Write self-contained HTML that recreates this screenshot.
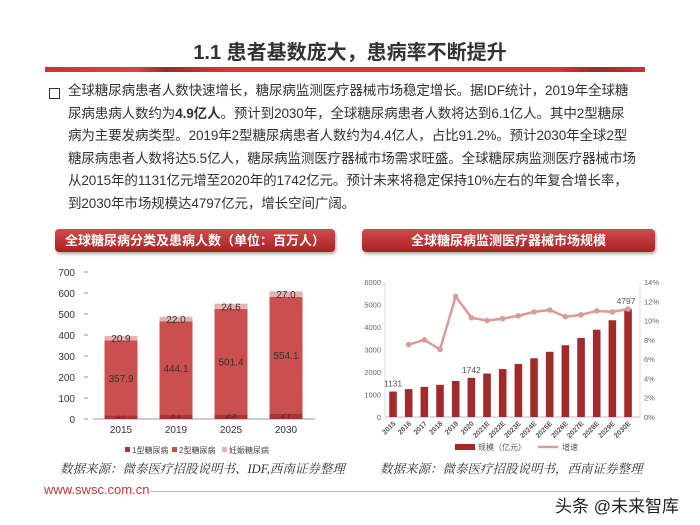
<!DOCTYPE html>
<html><head><meta charset="utf-8">
<style>
body{margin:0;width:700px;height:525px;background:#fff;position:relative;overflow:hidden;font-family:"Liberation Sans","Noto Sans CJK SC",sans-serif;}
.abs{position:absolute;}
.hdr{position:absolute;height:23px;border-radius:4px;background:linear-gradient(#d24b4b,#a82222);color:#fff;font-size:13px;font-weight:bold;text-align:center;line-height:23px;box-shadow:1px 2px 3px #aaa;}
.src{position:absolute;font-style:italic;font-size:12.5px;color:#333;font-family:"Liberation Serif","Noto Serif CJK SC",serif;}
.ln{white-space:nowrap;height:22.6px;}
</style></head><body>
<div class="abs" style="left:0;width:700px;top:36px;text-align:center;font-size:20px;font-weight:bold;color:#333;">1.1 患者基数庞大，患病率不断提升</div>
<div class="abs" style="left:45px;top:67px;width:600px;height:5px;background:linear-gradient(90deg,#c33 0%,#d44 15%,#9c2a2a 20%,#d33 30%,#d33 85%,#9c2a2a 92%,#c33 100%);"></div>
<div class="abs" style="left:49px;top:88px;width:9px;height:9px;border:1.5px solid #333;"></div>
<div class="abs" style="left:68px;top:80px;font-size:13.5px;line-height:22.6px;color:#333;letter-spacing:-0.1px;">
<div class="ln">全球糖尿病患者人数快速增长，糖尿病监测医疗器械市场稳定增长。据IDF统计，2019年全球糖</div>
<div class="ln">尿病患病人数约为<b>4.9亿人</b>。预计到2030年，全球糖尿病患者人数将达到6.1亿人。其中2型糖尿</div>
<div class="ln">病为主要发病类型。2019年2型糖尿病患者人数约为4.4亿人，占比91.2%。预计2030年全球2型</div>
<div class="ln">糖尿病患者人数将达5.5亿人，糖尿病监测医疗器械市场需求旺盛。全球糖尿病监测医疗器械市场</div>
<div class="ln">从2015年的1131亿元增至2020年的1742亿元。预计未来将稳定保持10%左右的年复合增长率，</div>
<div class="ln">到2030年市场规模达4797亿元，增长空间广阔。</div>
</div>

<div class="hdr" style="left:55px;top:229px;width:280px;">全球糖尿病分类及患病人数（单位：百万人）</div>
<div class="hdr" style="left:362px;top:229px;width:293px;">全球糖尿病监测医疗器械市场规模</div>

<svg class="abs" style="left:0;top:0" width="700" height="525">
<g id="left"></g><g id="right"></g>
</svg>

<div class="src" style="left:60px;top:459px;">数据来源：微泰医疗招股说明书、IDF,西南证券整理</div>
<div class="src" style="left:380px;top:459px;">数据来源：微泰医疗招股说明书，西南证券整理</div>
<div class="abs" style="left:44px;top:482px;font-size:13px;color:#c33;">www.swsc.com.cn</div>
<div class="abs" style="left:150px;top:491px;width:490px;height:1px;background:#bbb;"></div>
<div class="abs" style="left:555px;top:492px;font-size:17px;color:#222;">头条 @未来智库</div>

<script>
const NS="http://www.w3.org/2000/svg";
function mk(p,t,a,txt){const e=document.createElementNS(NS,t);for(const k in a)e.setAttribute(k,a[k]);if(txt!==undefined)e.textContent=txt;p.appendChild(e);return e;}
// Left chart data
const leftYears=["2015","2019","2025","2030"];
const type1=[17,21,23,27];
const type2=[357.9,444.1,501.4,554.1];
const gest=[20.9,22.0,24.6,27.0];
const leftTicks=[0,100,200,300,400,500,600,700];
// Right chart data
const rightYears=["2015","2016","2017","2018","2019","2020","2021E","2022E","2023E","2024E","2025E","2026E","2027E","2028E","2029E","2030E"];
const marketSize=[1131,1240,1340,1430,1600,1742,1930,2130,2360,2610,2900,3190,3510,3880,4300,4797];
const growth=[null,7.5,8.0,7.0,12.5,10.3,10.0,10.2,10.5,10.9,11.1,10.4,10.6,11.0,10.9,11.2];
const rightTicksL=[0,1000,2000,3000,4000,5000,6000];
const rightTicksR=[0,2,4,6,8,10,12,14];
const sizeLabels={0:"1131",5:"1742",15:"4797"};

// left
const L=document.getElementById('left');
const ly=v=>419-v*(147/700);
const lx=i=>121+i*55;
mk(L,'line',{x1:93,x2:315,y1:419,y2:419,stroke:'#999'});
leftTicks.forEach(t=>{const e=mk(L,'text',{x:75,y:ly(t)+4,'text-anchor':'end','font-size':10,fill:'#333'},t);mk(L,'line',{x1:84,x2:88,y1:ly(t),y2:ly(t),stroke:'#999'});});
leftYears.forEach((y,i)=>{
 const x=lx(i),w=33;let base=0;
 [[type1,'#a83535'],[type2,'#c9504e'],[gest,'#e6b3b3']].forEach(([arr,c],k)=>{
  const v=arr[i];const r=mk(L,'rect',{x:x-w/2,y:ly(base+v),width:w,height:ly(base)-ly(base+v),fill:c});
  
  const ty=ly(base+v/2)+4;
  mk(L,'text',{x:x,y:k===0?ly(0)-1:ty,'text-anchor':'middle','font-size':10,fill:'#333'},k===0?v:v.toFixed(1));
  base+=v;});
 const t=mk(L,'text',{x:x,y:433,'text-anchor':'middle','font-size':10,fill:'#333'},y);
});
[['1型糖尿病','#a83535',125],['2型糖尿病','#c9504e',172],['妊娠糖尿病','#e6b3b3',222]].forEach(([n,c,x])=>{
 const g=mk(L,'g',{});
 mk(g,'rect',{x:x,y:447,width:5,height:5,fill:c});mk(g,'text',{x:x+7,y:453,'font-size':8,fill:'#444'},n);});

// right
const R=document.getElementById('right');
const ryL=v=>417-v*(135/6000);
const ryR=v=>417-v*(135/14);
const rx=i=>393+i*15.67;
mk(R,'line',{x1:385,x2:640,y1:417,y2:417,stroke:'#bbb'});
mk(R,'line',{x1:385,x2:385,y1:282,y2:417,stroke:'#ddd'});
mk(R,'line',{x1:640,x2:640,y1:282,y2:417,stroke:'#ddd'});
rightTicksL.forEach(t=>{const e=mk(R,'text',{x:381,y:ryL(t)+3,'text-anchor':'end','font-size':7.5,fill:'#666'},t);});
rightTicksR.forEach(t=>{const e=mk(R,'text',{x:644,y:ryR(t)+3,'font-size':7.5,fill:'#666'},t+'%');});
marketSize.forEach((v,i)=>{
 const r=mk(R,'rect',{x:rx(i)-3.8,y:ryL(v),width:7.6,height:417-ryL(v),fill:'#a12b2b'});
 
 const t=mk(R,'text',{x:0,y:0,'font-size':7,'font-weight':'bold',fill:'#555','text-anchor':'end',transform:`translate(${rx(i)+3},${424}) rotate(-45)`},rightYears[i]);
 
 if(sizeLabels[i])mk(R,'text',{x:rx(i)+(i==15?-2:0),y:ryL(v)-5,'text-anchor':'middle','font-size':8.5,fill:'#555'},sizeLabels[i]);
});
let d='';growth.forEach((g,i)=>{if(g!==null)d+=(d?'L':'M')+rx(i)+','+ryR(g);});
const pl=mk(R,'path',{d:d,fill:'none',stroke:'#dc9a9a','stroke-width':2.5});
growth.forEach((g,i)=>{if(g!==null){const c=mk(R,'circle',{cx:rx(i),cy:ryR(g),r:2.8,fill:'#dc9a9a'});}});
const lg1=mk(R,'g',{});
mk(lg1,'rect',{x:455,y:444,width:20,height:6,fill:'#a12b2b'});mk(lg1,'text',{x:478,y:450,'font-size':8,fill:'#555'},'规模（亿元）');
const lg2=mk(R,'g',{});
mk(lg2,'line',{x1:538,x2:558,y1:447,y2:447,stroke:'#dc9a9a','stroke-width':2.5});mk(lg2,'text',{x:562,y:450,'font-size':8,fill:'#555'},'增速');
</script>
</body></html>
